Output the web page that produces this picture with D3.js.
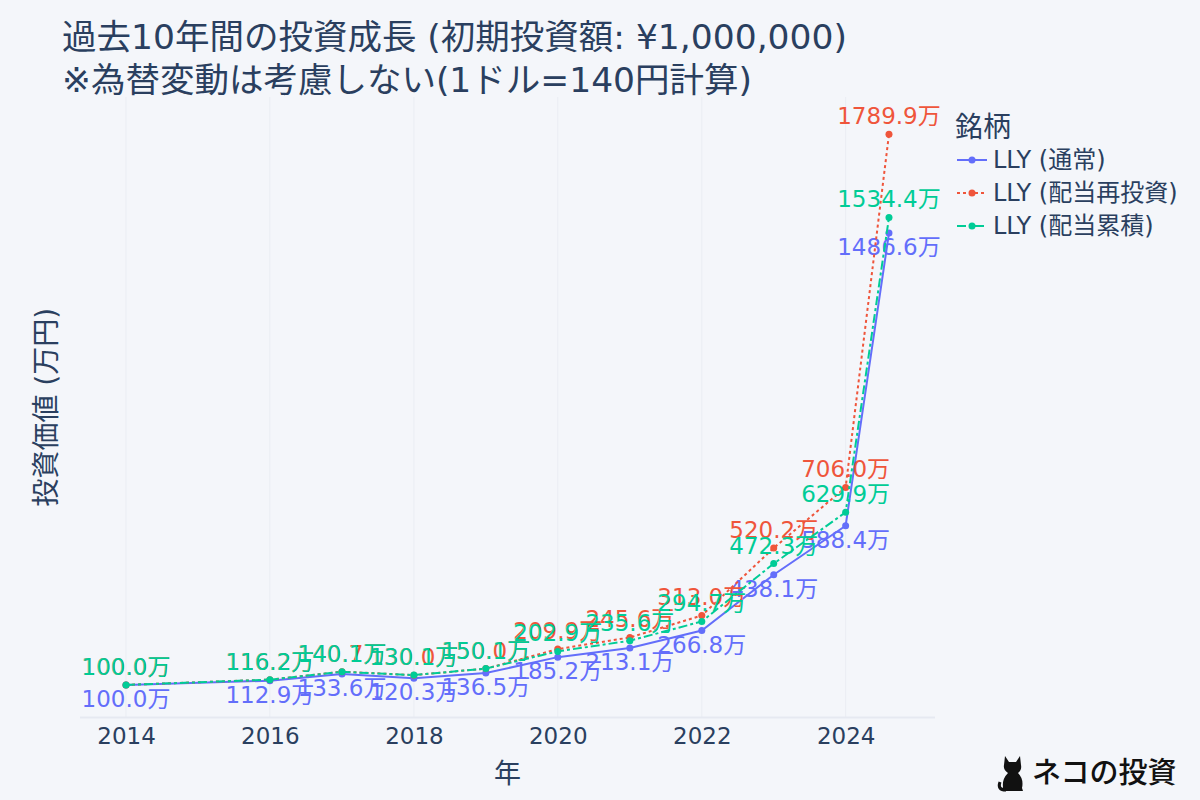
<!DOCTYPE html>
<html>
<head>
<meta charset="utf-8">
<script src="https://cdn.jsdelivr.net/npm/d3@7"></script>
<style>
  html, body { margin: 0; padding: 0; background: #f4f6fa; }
  svg { display: block; }
  text { font-family: 'DejaVu Sans', 'Noto Sans CJK JP', sans-serif; }
</style>
</head>
<body>
<script>
// ---------- data ----------
const dates = ["2014-01-01", "2016-01-01", "2017-01-01", "2018-01-01", "2019-01-01",
               "2020-01-01", "2021-01-01", "2022-01-01", "2023-01-01", "2024-01-01", "2024-08-08"];
const normalValues     = [100.0, 112.9, 133.6, 120.3, 136.5, 185.2, 213.1, 266.8, 438.1, 588.4, 1486.6];
const reinvestValues   = [100.0, 116.2, 140.7, 130.0, 150.0, 209.9, 245.6, 313.0, 520.2, 706.0, 1789.9];
const accumulateValues = [100.0, 116.2, 140.1, 130.1, 150.1, 202.9, 235.6, 294.7, 472.3, 629.9, 1534.4];
const seriesNames = ["LLY (通常)", "LLY (配当再投資)", "LLY (配当累積)"];
const tickYears = [2014, 2016, 2018, 2020, 2022, 2024];
const titleLines = ["過去10年間の投資成長 (初期投資額: ¥1,000,000)", "※為替変動は考慮しない(1ドル=140円計算)"];
const xTitle = "年";
const yTitle = "投資価値 (万円)";
const legendTitle = "銘柄";
const yMax = 1904;

// ---------- layout ----------
const W = 1200, H = 800;
const plot = { left: 80, right: 935, top: 97, bottom: 717.5 };
const colors = ["#636efa", "#EF553B", "#00cc96"];
const dashes = [null, "3,3", "9,3,3,3"];
const labelPos = ["bottom", "top", "top"];
const FONT = "'DejaVu Sans', 'Noto Sans CJK JP', sans-serif";

const parse = d3.timeParse("%Y-%m-%d");
const dateObjs = dates.map(parse);

const svg = d3.select("body").append("svg").attr("width", W).attr("height", H);
svg.append("rect").attr("width", W).attr("height", H).attr("fill", "#f4f6fa");

// x scale with symmetric padding
const ext = d3.extent(dateObjs);
const span = ext[1] - ext[0];
const pad = span * 0.0603;
const x = d3.scaleTime()
  .domain([new Date(+ext[0] - pad), new Date(+ext[1] + pad)])
  .range([plot.left, plot.right]);
const y = d3.scaleLinear().domain([0, yMax]).range([plot.bottom, plot.top]);

// grid
const tickDates = tickYears.map(yr => new Date(yr, 0, 1));
svg.append("g").selectAll("line").data(tickDates).join("line")
  .attr("x1", d => x(d)).attr("x2", d => x(d))
  .attr("y1", plot.top).attr("y2", plot.bottom)
  .attr("stroke", "#eaedf3").attr("stroke-width", 1);
svg.append("line")
  .attr("x1", plot.left).attr("x2", plot.right)
  .attr("y1", y(0)).attr("y2", y(0))
  .attr("stroke", "#e6e9f1").attr("stroke-width", 2);

// x axis
const xAxis = d3.axisBottom(x).tickValues(tickDates).tickFormat(d3.timeFormat("%Y")).tickSize(0).tickPadding(10);
const gx = svg.append("g").attr("transform", `translate(0,${plot.bottom})`).call(xAxis);
gx.select(".domain").remove();
gx.selectAll("text").attr("font-size", 23).attr("fill", "#2a3f5f").style("font-family", FONT);

// axis titles
svg.append("text").attr("x", (plot.left + plot.right) / 2).attr("y", 783)
  .attr("text-anchor", "middle").attr("font-size", 27).attr("fill", "#2a3f5f").text(xTitle);
svg.append("text").attr("transform", `translate(56,${(plot.top + plot.bottom) / 2}) rotate(-90)`)
  .attr("text-anchor", "middle").attr("font-size", 28).attr("fill", "#2a3f5f").text(yTitle);

// title
titleLines.forEach((t, i) => {
  svg.append("text").attr("x", 62).attr("y", 49 + i * 43)
    .attr("font-size", 34.5).attr("fill", "#2a3f5f").text(t);
});

// series
const seriesValues = [normalValues, reinvestValues, accumulateValues];
const line = d3.line().x(d => x(d.date)).y(d => y(d.value));
const fmt = d3.format(".1f");

seriesValues.forEach((vals, si) => {
  const data = vals.map((v, i) => ({ date: dateObjs[i], value: v }));
  const g = svg.append("g");
  g.append("path").datum(data).attr("d", line)
    .attr("fill", "none").attr("stroke", colors[si]).attr("stroke-width", 2)
    .attr("stroke-dasharray", dashes[si]);
  g.selectAll("circle").data(data).join("circle")
    .attr("cx", d => x(d.date)).attr("cy", d => y(d.value)).attr("r", 3.5)
    .attr("fill", colors[si]);
  g.selectAll("text").data(data).join("text")
    .attr("x", d => x(d.date))
    .attr("y", d => labelPos[si] === "top" ? y(d.value) - 10 : y(d.value) + 22)
    .attr("text-anchor", "middle").attr("font-size", 23).attr("fill", colors[si])
    .text(d => fmt(d.value) + "万");
});

// legend
const lg = svg.append("g");
lg.append("text").attr("x", 955).attr("y", 137).attr("font-size", 28).attr("fill", "#2a3f5f").text(legendTitle);
seriesNames.forEach((name, i) => {
  const cy = 160 + i * 33;
  lg.append("line").attr("x1", 957).attr("x2", 987).attr("y1", cy).attr("y2", cy)
    .attr("stroke", colors[i]).attr("stroke-width", 2).attr("stroke-dasharray", dashes[i]);
  lg.append("circle").attr("cx", 972).attr("cy", cy).attr("r", 3.5).attr("fill", colors[i]);
  lg.append("text").attr("x", 993).attr("y", cy + 8).attr("font-size", 24).attr("fill", "#2a3f5f").text(name);
});

// watermark
const wm = svg.append("g").attr("transform", "translate(1000,754)");
wm.append("path")
  .attr("d", "M5,2 L9,8 L16,8 L20,2 L21,11 Q22,16 18,19 Q24,25 22,34 L23,37 L6,37 Q2,37 3,33 Q2,25 8,19 Q3,16 4,11 Z")
  .attr("fill", "#111");
wm.append("path").attr("d", "M6,36 Q-3,36 0,28").attr("fill", "none").attr("stroke", "#111").attr("stroke-width", 3);
wm.append("text").attr("x", 32).attr("y", 29).attr("font-size", 29).attr("font-weight", 500)
  .attr("fill", "#111").style("font-family", "'Noto Sans CJK JP', sans-serif").text("ネコの投資");
</script>
</body>
</html>
